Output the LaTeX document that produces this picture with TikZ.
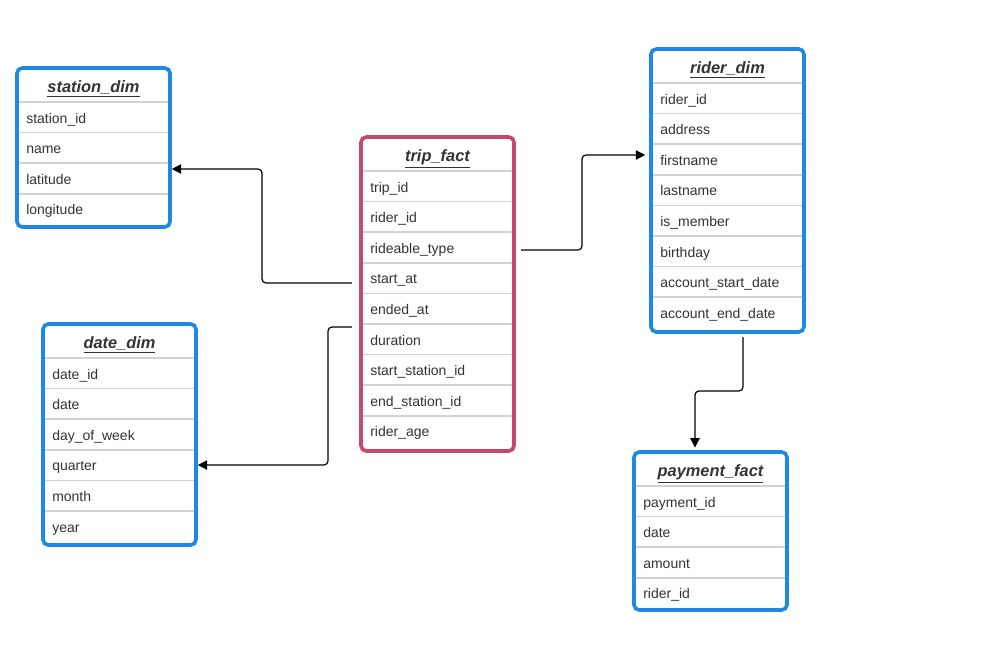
\documentclass[tikz,border=0pt]{standalone}
\usepackage{fontspec}
\setmainfont{Liberation Sans}
\usetikzlibrary{arrows.meta}
\definecolor{boxblue}{HTML}{1E88E5}
\definecolor{boxpink}{HTML}{C74A6C}
\definecolor{txt}{HTML}{333333}
\definecolor{sepgray}{HTML}{D2D2D2}
\tikzset{
  erframe/.style={rectangle, line width=2.7pt, rounded corners=4pt, inner sep=0pt},
  rowtext/.style={anchor=base west, inner sep=0pt, text=txt, font=\fontsize{10.5}{12}\selectfont},
  titletext/.style={anchor=base, inner sep=0pt, text=txt, font=\fontsize{12.3}{14}\selectfont\bfseries\itshape},
  sepline/.style={draw=sepgray, line width=1.2pt},
  conn/.style={draw=black, line width=0.9pt, rounded corners=3pt, -{Triangle[length=7pt,width=7pt]}}
}
% #1 name, #2 left, #3 top, #4 right, #5 bottom, #6 colour, #7 title, #8 rows
\newcommand\erbox[8]{%
  \foreach \r [count=\i] in {#8} {
    \pgfmathsetmacro\ytop{#3+34+30.6*(\i-1)}
    \draw[sepline] (#2,\ytop) -- (#4,\ytop);
    \node[rowtext] (#1-\i) at (#2+9,\ytop+21) {\r};
  }
  \node[erframe, draw=#6, minimum width={(#4-#2)*0.75pt}, minimum height={(#5-#3)*0.75pt}]
    (#1) at ({(#2+#4)/2},{(#3+#5)/2}) {};
  \node[titletext] (#1-title) at ({(#2+#4)/2},#3+24.5) {\underline{#7}};
}
\begin{document}
\begin{tikzpicture}[x=0.75pt,y=-0.75pt]
\useasboundingbox[fill=white] (0,0) rectangle (993,646);

\erbox{station}{17}{68}{170}{227}{boxblue}{station\_dim}{station\_id,name,latitude,longitude}
\erbox{trip}{361}{137}{514}{451}{boxpink}{trip\_fact}{trip\_id,rider\_id,rideable\_type,start\_at,ended\_at,duration,start\_station\_id,end\_station\_id,rider\_age}
\erbox{rider}{651}{49}{804}{332}{boxblue}{rider\_dim}{rider\_id,address,firstname,lastname,is\_member,birthday,account\_start\_date,account\_end\_date}
\erbox{date}{43}{324}{196}{545}{boxblue}{date\_dim}{date\_id,date,day\_of\_week,quarter,month,year}
\erbox{payment}{634}{452}{787}{610}{boxblue}{payment\_fact}{payment\_id,date,amount,rider\_id}

\coordinate (s1) at (352,283);
\coordinate (s2) at (352,327);
\coordinate (s3) at (521,250);
\coordinate (s4) at (743,337);

\draw[conn] (s1) -- (262,283) |- (station.east |- 0,169);
\draw[conn] (s2) -- (328,327) |- (date.east |- 0,465);
\draw[conn, shorten >=3pt] (s3) -- (582,250) |- (rider.west |- 0,155);
\draw[conn, shorten >=2pt] (s4) -- (743,391) -| (payment.north -| 695,0);
\end{tikzpicture}
\end{document}
